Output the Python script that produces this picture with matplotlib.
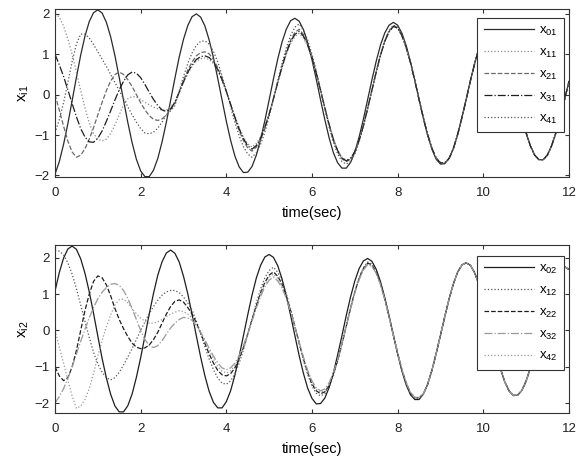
import numpy as np
import matplotlib.pyplot as plt

# time grid (0.1 s steps)
t = np.round(np.arange(0, 12.01, 0.1), 1)

# ---- top panel: x_i1 ----
x01 = [-1.97, -1.66, -1.23, -0.72, -0.15, 0.43, 0.98, 1.45, 1.81, 2.03,
       2.10, 2.02, 1.79, 1.43, 0.96, 0.42, -0.14, -0.69, -1.19, -1.60,
       -1.89, -2.03, -2.03, -1.87, -1.58, -1.17, -0.68, -0.14, 0.41, 0.93,
       1.37, 1.71, 1.93, 2.00, 1.92, 1.70, 1.35, 0.91, 0.40, -0.13,
       -0.66, -1.13, -1.52, -1.79, -1.93, -1.92, -1.78, -1.50, -1.11, -0.64,
       -0.13, 0.39, 0.88, 1.30, 1.62, 1.83, 1.89, 1.82, 1.61, 1.28,
       0.86, 0.38, -0.13, -0.62, -1.07, -1.44, -1.69, -1.82, -1.82, -1.68,
       -1.42, -1.05, -0.61, -0.12, 0.37, 0.83, 1.23, 1.53, 1.72, 1.79,
       1.72, 1.52, 1.21, 0.81, 0.36, -0.12, -0.59, -1.01, -1.35, -1.60,
       -1.72, -1.71, -1.58, -1.34, -0.99, -0.57, -0.12, 0.35, 0.78, 1.16,
       1.44, 1.62, 1.68, 1.61, 1.43, 1.14, 0.76, 0.34, -0.11, -0.55,
       -0.95, -1.27, -1.50, -1.61, -1.61, -1.49, -1.25, -0.93, -0.54, -0.11,
       0.33]
x11 = [2.0, 1.92, 1.7, 1.38, 1.0, 0.56, 0.1, -0.33, -0.7, -0.97,
       -1.1, -1.15, -1.1, -0.96, -0.75, -0.5, -0.25, -0.1, -0.05, -0.06,
       -0.12, -0.19, -0.25, -0.31, -0.35, -0.38, -0.38, -0.3,
       -0.18, 0.06, 0.30, 0.52, 0.70, 0.83, 0.89,
       0.91, 0.87, 0.77, 0.59, 0.35, 0.07, -0.23, -0.53, -0.82, -1.05, -1.22, -1.30,
       -1.21, -1.04, -0.78, -0.46, -0.10, 0.29, 0.66, 1.00, 1.26, 1.44, 1.52,
       1.40, 1.19, 0.89, 0.52, 0.11, -0.32, -0.73, -1.09, -1.37, -1.55, -1.62,
       -1.57, -1.40, -1.12, -0.76, -0.34, 0.11, 0.56, 0.97, 1.31, 1.55, 1.68,
       1.64, 1.45, 1.16, 0.78, 0.35, -0.12, -0.57, -0.98, -1.33, -1.57, -1.69, -1.69] + x01[92:]
x21 = [0.0, -0.38, -0.78, -1.15, -1.42, -1.55, -1.5, -1.34, -1.1, -0.82,
       -0.5, -0.19, 0.1, 0.34, 0.5, 0.56, 0.5, 0.37, 0.2, 0.0,
       -0.2, -0.38, -0.52, -0.61, -0.64, -0.6, -0.5, -0.37,
       -0.21, 0.07, 0.35, 0.61, 0.81, 0.96, 1.04,
       1.06, 1.01, 0.87, 0.67, 0.40, 0.08, -0.25, -0.59, -0.89, -1.14, -1.32, -1.40,
       -1.30, -1.12, -0.84, -0.50, -0.10, 0.31, 0.71, 1.06, 1.35, 1.54, 1.62,
       1.49, 1.26, 0.94, 0.55, 0.11, -0.33, -0.76, -1.13, -1.41, -1.59, -1.66,
       -1.60, -1.43, -1.14, -0.77, -0.34, 0.12, 0.57, 0.98, 1.33, 1.57, 1.70,
       1.66, 1.47, 1.17, 0.79, 0.35, -0.12, -0.57, -0.99, -1.33, -1.57, -1.69, -1.69] + x01[92:]
x31 = [1.0, 0.74, 0.45, 0.12, -0.22, -0.55, -0.84, -1.05, -1.17, -1.18,
       -1.08, -0.9, -0.66, -0.4, -0.13, 0.12, 0.33, 0.49, 0.56, 0.53,
       0.42, 0.25, 0.06, -0.12, -0.27, -0.38, -0.42, -0.35,
       -0.19, 0.06, 0.32, 0.55, 0.74, 0.87, 0.94,
       0.96, 0.92, 0.80, 0.62, 0.37, 0.08, -0.24, -0.56, -0.85, -1.09, -1.27, -1.35,
       -1.26, -1.08, -0.81, -0.48, -0.10, 0.30, 0.69, 1.03, 1.31, 1.49, 1.57,
       1.45, 1.23, 0.92, 0.53, 0.11, -0.33, -0.74, -1.11, -1.39, -1.57, -1.64,
       -1.58, -1.41, -1.13, -0.77, -0.34, 0.11, 0.56, 0.98, 1.32, 1.56, 1.69,
       1.65, 1.46, 1.17, 0.79, 0.35, -0.12, -0.57, -0.99, -1.33, -1.57, -1.69, -1.69] + x01[92:]
x41 = [-0.95, -0.62, -0.2, 0.3, 0.82, 1.25, 1.5, 1.5, 1.4, 1.24,
       1.06, 0.88, 0.7, 0.5, 0.3, 0.1, -0.1, -0.3, -0.5, -0.68,
       -0.84, -0.95, -0.97, -0.93, -0.83, -0.68, -0.5, -0.4,
       -0.27, 0.09, 0.45, 0.77, 1.03, 1.22, 1.32,
       1.33, 1.25, 1.07, 0.81, 0.47, 0.10, -0.30, -0.68, -1.02, -1.29, -1.47, -1.55,
       -1.44, -1.23, -0.93, -0.54, -0.11, 0.34, 0.77, 1.16, 1.46, 1.67, 1.75,
       1.60, 1.35, 1.00, 0.58, 0.12, -0.35, -0.80, -1.18, -1.47, -1.66, -1.72,
       -1.66, -1.47, -1.18, -0.79, -0.35, 0.12, 0.58, 1.00, 1.35, 1.59, 1.72,
       1.68, 1.49, 1.18, 0.80, 0.35, -0.12, -0.58, -0.99, -1.34, -1.58, -1.70, -1.70] + x01[92:]

# ---- bottom panel: x_i2 ----
x02 = [1.08, 1.59, 1.99, 2.24, 2.32, 2.23, 1.97, 1.57, 1.06, 0.47,
       -0.16, -0.77, -1.31, -1.76, -2.08, -2.24, -2.24, -2.07, -1.75, -1.29,
       -0.75, -0.15, 0.45, 1.02, 1.52, 1.89, 2.13, 2.21, 2.12, 1.88,
       1.49, 1.01, 0.44, -0.15, -0.73, -1.25, -1.68, -1.98, -2.13, -2.13,
       -1.96, -1.66, -1.23, -0.71, -0.14, 0.43, 0.97, 1.44, 1.79, 2.02,
       2.09, 2.01, 1.78, 1.42, 0.95, 0.42, -0.14, -0.69, -1.18, -1.59,
       -1.87, -2.02, -2.01, -1.86, -1.57, -1.16, -0.67, -0.14, 0.41, 0.92,
       1.36, 1.70, 1.91, 1.98, 1.90, 1.68, 1.34, 0.90, 0.40, -0.13,
       -0.65, -1.12, -1.50, -1.77, -1.90, -1.90, -1.75, -1.48, -1.10, -0.63,
       -0.13, 0.38, 0.86, 1.28, 1.60, 1.80, 1.86, 1.79, 1.58, 1.26,
       0.85, 0.37, -0.12, -0.61, -1.05, -1.41, -1.66, -1.79, -1.78, -1.65,
       -1.39, -1.03, -0.60, -0.12, 0.36, 0.81, 1.20, 1.50, 1.69, 1.75,
       1.68]
x12 = [2.2, 2.18, 2.08, 1.86, 1.55, 1.15, 0.7, 0.25, -0.2, -0.6,
       -0.92, -1.15, -1.3, -1.36, -1.3, -1.15, -0.95, -0.73, -0.5, -0.25,
       0.0, 0.24, 0.46, 0.66, 0.83, 0.97, 1.06, 1.1, 1.1, 1.04, 0.92, 0.76,
       0.56, 0.26, -0.09, -0.45, -0.79, -1.08, -1.31, -1.45, -1.48,
       -1.39, -1.19, -0.90, -0.53, -0.11, 0.33, 0.76, 1.14, 1.45, 1.65, 1.74,
       1.60, 1.36, 1.01, 0.59, 0.12, -0.36, -0.82, -1.22, -1.53, -1.73, -1.80,
       -1.74, -1.55, -1.25, -0.84, -0.38, 0.13, 0.62, 1.08, 1.46, 1.73, 1.88,
       1.83, 1.62, 1.29, 0.87, 0.39, -0.13, -0.63, -1.09, -1.46, -1.73, -1.86, -1.86] + x02[86:]
x22 = [-1.0, -1.25, -1.38, -1.3, -1.0, -0.55, 0.0, 0.55, 1.0, 1.35,
       1.5, 1.45, 1.25, 0.95, 0.6, 0.3, 0.05, -0.17, -0.35, -0.46,
       -0.5, -0.48, -0.4, -0.25, -0.05, 0.2, 0.45, 0.66, 0.8, 0.84, 0.78, 0.63,
       0.45, 0.21, -0.07, -0.36, -0.65, -0.90, -1.10, -1.22, -1.25,
       -1.19, -1.03, -0.78, -0.47, -0.10, 0.30, 0.68, 1.03, 1.32, 1.52, 1.61,
       1.49, 1.27, 0.95, 0.55, 0.11, -0.34, -0.78, -1.16, -1.47, -1.66, -1.74,
       -1.69, -1.51, -1.21, -0.82, -0.37, 0.12, 0.61, 1.06, 1.43, 1.70, 1.85,
       1.80, 1.60, 1.28, 0.86, 0.38, -0.13, -0.63, -1.08, -1.45, -1.72, -1.85, -1.85] + x02[86:]
x32 = [-2.0, -1.82, -1.6, -1.32, -1.0, -0.65, -0.3, 0.03, 0.35, 0.63,
       0.87, 1.05, 1.18, 1.27, 1.29, 1.24, 1.1, 0.88, 0.6, 0.3,
       0.0, -0.25, -0.42, -0.47, -0.42, -0.28, -0.1, 0.07, 0.2, 0.3, 0.36, 0.34,
       0.28, 0.13, -0.05, -0.26, -0.49, -0.71, -0.89, -1.03, -1.08,
       -1.03, -0.90, -0.69, -0.41, -0.09, 0.26, 0.61, 0.93, 1.20, 1.38, 1.47,
       1.36, 1.17, 0.88, 0.52, 0.11, -0.32, -0.73, -1.10, -1.39, -1.58, -1.66,
       -1.61, -1.44, -1.16, -0.79, -0.35, 0.12, 0.59, 1.03, 1.39, 1.66, 1.81,
       1.76, 1.57, 1.26, 0.85, 0.38, -0.13, -0.62, -1.07, -1.44, -1.70, -1.84, -1.84] + x02[86:]
x42 = [0.0, -0.45, -0.9, -1.37, -1.8, -2.14, -2.08, -1.9, -1.6, -1.18,
       -0.7, -0.28, 0.1, 0.43, 0.7, 0.85, 0.86, 0.76, 0.6, 0.46,
       0.34, 0.25, 0.2, 0.2, 0.24, 0.3, 0.38, 0.45, 0.5, 0.54, 0.52, 0.45,
       0.35, 0.16, -0.06, -0.31, -0.56, -0.79, -0.99, -1.12, -1.17,
       -1.11, -0.97, -0.74, -0.44, -0.09, 0.28, 0.65, 0.99, 1.27, 1.46, 1.55,
       1.43, 1.22, 0.92, 0.54, 0.11, -0.33, -0.76, -1.13, -1.43, -1.62, -1.70,
       -1.65, -1.47, -1.19, -0.81, -0.36, 0.12, 0.60, 1.04, 1.41, 1.68, 1.83,
       1.78, 1.58, 1.27, 0.85, 0.38, -0.13, -0.62, -1.07, -1.44, -1.71, -1.84, -1.84] + x02[86:]

top_series = [(x01, 'x_{01}'), (x11, 'x_{11}'), (x21, 'x_{21}'), (x31, 'x_{31}'), (x41, 'x_{41}')]
bot_series = [(x02, 'x_{02}'), (x12, 'x_{12}'), (x22, 'x_{22}'), (x32, 'x_{32}'), (x42, 'x_{42}')]

top_styles = [('-', '#2a2a2a'), (':', '#8c8c8c'), ('--', '#6a6a6a'), ('-.', '#1e1e1e'), (':', '#555555')]
bot_styles = [('-', '#1e1e1e'), (':', '#555555'), ('--', '#1e1e1e'), ('-.', '#999999'), (':', '#999999')]

plt.rcParams['font.family'] = ['Liberation Sans', 'DejaVu Sans']
plt.rcParams['mathtext.fontset'] = 'custom'
plt.rcParams['mathtext.rm'] = 'Liberation Sans'
plt.rcParams['mathtext.it'] = 'Liberation Sans'

fig = plt.figure(figsize=(5.87, 4.58), dpi=100)
ax1 = fig.add_axes([0.0937, 0.6135, 0.8756, 0.3668])
ax2 = fig.add_axes([0.0937, 0.0983, 0.8756, 0.3668])


def draw(ax, series, styles, ylim, ylabel, leg_box):
    for (y, lab), (ls, c) in zip(series, styles):
        ax.plot(t, y, ls=ls, color=c, lw=0.9, label='$\\mathregular{%s}$' % lab)
    ax.set_xlim(0, 12)
    ax.set_ylim(ylim)
    ax.set_xticks([0, 2, 4, 6, 8, 10, 12])
    ax.set_yticks([-2, -1, 0, 1, 2])
    ax.tick_params(direction='in', top=True, right=True, labelsize=9.5, length=3,
                   color='#333333', labelcolor='#222222')
    ax.tick_params(axis='x', pad=7)
    ax.tick_params(axis='y', pad=4)
    for s in ax.spines.values():
        s.set_color('#333333')
        s.set_linewidth(0.8)
    ax.set_xlabel('time(sec)', fontsize=10.5, labelpad=5)
    ax.set_ylabel('$\\mathregular{%s}$' % ylabel, fontsize=11, labelpad=2)
    leg = ax.legend(loc='upper left', bbox_to_anchor=leg_box, fontsize=9.5, handlelength=3.8,
                    labelspacing=0.65, borderpad=0.5, handletextpad=0.4, fancybox=False,
                    framealpha=1, edgecolor='#333333', borderaxespad=0)
    leg.get_frame().set_linewidth(0.8)


draw(ax1, top_series, top_styles, (-2.04, 2.12), 'x_{i1}', (0.821, 0.946))
draw(ax2, bot_series, bot_styles, (-2.27, 2.35), 'x_{i2}', (0.821, 0.935))

fig.savefig('out.png', dpi=100)
